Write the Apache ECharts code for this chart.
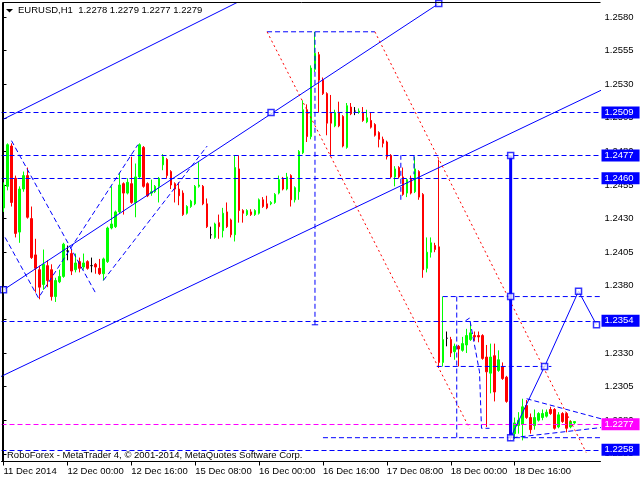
<!DOCTYPE html>
<html><head><meta charset="utf-8">
<script src="https://cdn.jsdelivr.net/npm/echarts@6/dist/echarts.min.js"></script>
<style>html,body{margin:0;padding:0;background:#fff}#c{width:640px;height:480px}</style>
</head><body><div id="c"></div>
<script>
// ---------- data ----------
const symbolName = 'EURUSD,H1';
const lastQuote = [1.2278, 1.2279, 1.2277, 1.2279];
const copyrightText = 'RoboForex - MetaTrader 4, \u00A9 2001-2014, MetaQuotes Software Corp.';
const tickLabels = ['11 Dec 2014','12 Dec 00:00','12 Dec 16:00','15 Dec 08:00','16 Dec 00:00','16 Dec 16:00','17 Dec 08:00','18 Dec 00:00','18 Dec 16:00'];
const priceTicks = [1.2255,1.2280,1.2305,1.2330,1.2355,1.2380,1.2405,1.2430,1.2455,1.2480,1.2505,1.2530,1.2555,1.2580];

const opens = [
1.2438,1.2454,1.2484,1.2460,1.2420,1.2452,1.2462,1.2430,1.2403,1.2392,
1.2381,1.2395,1.2392,1.2372,1.2383,1.2387,1.2406,1.2404,1.2392,1.2398,
1.2394,1.2398,1.2395,1.2396,1.2393,1.2389,1.2398,1.2423,1.2424,1.2435,
1.2456,1.2449,1.2456,1.2442,1.2461,1.2483,1.2456,1.2449,1.2450,1.2454,
1.2470,1.2474,1.2465,1.2456,1.2452,1.2449,1.2434,1.2439,1.2441,1.2454,
1.2454,1.2441,1.2418,1.2416,1.2427,1.2421,1.2435,1.2429,1.2418,1.2467,
1.2436,1.2433,1.2435,1.2433,1.2434,1.2444,1.2441,1.2441,1.2442,1.2449,
1.2460,1.2452,1.2462,1.2444,1.2450,1.2479,1.2511,1.2491,1.2541,1.2552,
1.2533,1.2523,1.2509,1.2499,1.2509,1.2506,1.2483,1.2513,1.2510,1.2509,
1.2509,1.2502,1.2503,1.2500,1.2494,1.2489,1.2487,1.2477,1.2461,1.2468,
1.2461,1.2449,1.2460,1.2450,1.2465,1.2448,1.2393,1.2405,1.2410,1.2409,
1.2323,1.2341,1.2340,1.2331,1.2335,1.2332,1.2336,1.2340,1.2343,1.2343,
1.2343,1.2327,1.2315,1.2328,1.2317,1.2320,1.2312,1.2294,1.2270,1.2276,
1.2277,1.2291,1.2282,1.2276,1.2280,1.2282,1.2283,1.2288,1.2288,1.2275,
1.2285,1.2285,1.2275,1.2278];
const closes = [
1.2455,1.2485,1.2442,1.2419,1.2452,1.2462,1.2431,1.2401,1.2393,1.2379,
1.2396,1.2384,1.2372,1.2384,1.2387,1.2411,1.2406,1.2391,1.2397,1.2393,
1.2397,1.2393,1.2395,1.2394,1.2389,1.2400,1.2423,1.2426,1.2435,1.2455,
1.2449,1.2457,1.2442,1.2461,1.2485,1.2454,1.2447,1.2450,1.2454,1.2460,
1.2476,1.2462,1.2455,1.2452,1.2447,1.2433,1.2439,1.2443,1.2454,1.2455,
1.2441,1.2424,1.2418,1.2426,1.2424,1.2434,1.2424,1.2418,1.2468,1.2436,
1.2434,1.2436,1.2433,1.2436,1.2444,1.2439,1.2438,1.2442,1.2448,1.2459,
1.2452,1.2461,1.2444,1.2453,1.2480,1.2511,1.2491,1.2542,1.2553,1.2533,
1.2523,1.2501,1.2501,1.2509,1.2499,1.2484,1.2514,1.2508,1.2510,1.2510,
1.2503,1.2505,1.2498,1.2492,1.2489,1.2486,1.2476,1.2461,1.2467,1.2461,
1.2448,1.2459,1.2449,1.2467,1.2446,1.2392,1.2405,1.2412,1.2407,1.2323,
1.2340,1.2341,1.2330,1.2335,1.2333,1.2337,1.2343,1.2345,1.2342,1.2342,
1.2326,1.2316,1.2327,1.2301,1.2325,1.2311,1.2294,1.2267,1.2278,1.2280,
1.2290,1.2282,1.2273,1.2282,1.2285,1.2285,1.2286,1.2285,1.2274,1.2284,
1.2279,1.2274,1.2279,1.2279];
const lows = [
1.2435,1.2451,1.2439,1.2416,1.2412,1.2450,1.2430,1.2400,1.2375,1.2370,
1.2377,1.2379,1.2369,1.2368,1.2382,1.2386,1.2399,1.2388,1.2390,1.2390,
1.2392,1.2392,1.2390,1.2389,1.2388,1.2384,1.2397,1.2422,1.2423,1.2434,
1.2433,1.2448,1.2441,1.2431,1.2460,1.2453,1.2446,1.2447,1.2449,1.2442,
1.2466,1.2460,1.2452,1.2442,1.2440,1.2432,1.2433,1.2438,1.2440,1.2453,
1.2440,1.2423,1.2415,1.2415,1.2415,1.2416,1.2423,1.2416,1.2413,1.2427,
1.2427,1.2432,1.2432,1.2432,1.2433,1.2438,1.2437,1.2440,1.2441,1.2448,
1.2451,1.2451,1.2439,1.2442,1.2444,1.2478,1.2487,1.2489,1.2539,1.2509,
1.2522,1.2492,1.2476,1.2498,1.2498,1.2483,1.2482,1.2507,1.2507,1.2508,
1.2502,1.2501,1.2497,1.2491,1.2483,1.2483,1.2474,1.2460,1.2454,1.2460,
1.2447,1.2446,1.2448,1.2449,1.2444,1.2386,1.2390,1.2401,1.2405,1.2319,
1.2320,1.2335,1.2327,1.2325,1.2320,1.2331,1.2330,1.2339,1.2339,1.2338,
1.2325,1.2275,1.2300,1.2294,1.2316,1.2310,1.2293,1.2265,1.2266,1.2270,
1.2265,1.2281,1.2270,1.2273,1.2279,1.2280,1.2282,1.2284,1.2273,1.2274,
1.2278,1.2271,1.2274,1.2277];
const highs = [
1.2457,1.2486,1.2486,1.2462,1.2454,1.2465,1.2468,1.2439,1.2415,1.2395,
1.2407,1.2399,1.2396,1.2386,1.2392,1.2412,1.2410,1.2407,1.2404,1.2401,
1.2404,1.2399,1.2401,1.2397,1.2400,1.2401,1.2424,1.2454,1.2436,1.2464,
1.2457,1.2460,1.2476,1.2471,1.2486,1.2484,1.2457,1.2459,1.2455,1.2461,
1.2478,1.2475,1.2466,1.2457,1.2457,1.2451,1.2440,1.2444,1.2455,1.2472,
1.2455,1.2445,1.2424,1.2427,1.2433,1.2438,1.2442,1.2430,1.2477,1.2477,
1.2437,1.2437,1.2437,1.2437,1.2445,1.2446,1.2447,1.2443,1.2449,1.2462,
1.2461,1.2464,1.2463,1.2454,1.2481,1.2518,1.2515,1.2544,1.2569,1.2554,
1.2535,1.2524,1.2522,1.2511,1.2517,1.2507,1.2516,1.2516,1.2513,1.2512,
1.2513,1.2511,1.2509,1.2501,1.2495,1.2491,1.2488,1.2478,1.2469,1.2469,
1.2468,1.2460,1.2462,1.2476,1.2466,1.2449,1.2416,1.2416,1.2412,1.2474,
1.2372,1.2346,1.2342,1.2337,1.2336,1.2342,1.2348,1.2352,1.2346,1.2346,
1.2344,1.2336,1.2337,1.2337,1.2332,1.2323,1.2313,1.2295,1.2282,1.2286,
1.2296,1.2295,1.2285,1.2288,1.2286,1.2288,1.2288,1.2290,1.2289,1.2286,
1.2286,1.2286,1.2280,1.2279];

// horizontal price levels
const blueLevels = [1.2509, 1.2477, 1.2460, 1.2354, 1.2258];
const magentaLevel = 1.2277;
const bidLevel = 1.2279;

// drawn objects: [bar index, price]
const channelUpper = [[0, 1.2504], [62, 1.2596]];
const channelMiddle = [[0, 1.2377], [109, 1.2590]];
const channelLower = [[-1, 1.2312], [150, 1.2526]];
const zigA = [[2, 1.2488], [23, 1.2375]];
const zigB = [[0.4, 1.2416], [8.75, 1.2371], [33.65, 1.2485]];
const zigC = [[25, 1.2384], [51, 1.2484]];
const boxTop = [[66, 1.2569], [93, 1.2569]];
const spikeDrop = [[78, 1.2569], [78, 1.2351]];
const spikeFoot = [[77.2, 1.2351], [78.8, 1.2351]];
const bracketA = [[99.5, 1.2444], [99.5, 1.2477]];
const bracketB = [[102.8, 1.2477], [102.8, 1.2463]];
const redLeft = [[66, 1.2569], [116.7, 1.2274]];
const redRight = [[93, 1.2569], [145.9, 1.2256]];
const rangeTop = [[110, 1.2372], [150, 1.2372]];
const rangeSide = [[113.5, 1.2372], [113.5, 1.2267]];
const rangeMid = [[108.5, 1.2320], [137.2, 1.2320]];
const zig18 = [[115.7, 1.2354], [116.7, 1.2356], [119.2, 1.2316], [119.7, 1.2274], [121.7, 1.2274]];
const baseLine = [[80, 1.2267], [150, 1.2267]];
const targetBar = [[127, 1.2477], [127, 1.2267]];
const forecast = [[127, 1.2267], [135.5, 1.2320], [144, 1.2376], [148.5, 1.2351]];
const triUpper = [[131, 1.2296], [151, 1.2280]];
const triLower = [[127.5, 1.2267], [151, 1.2275]];
const anchors = [[0, 1.2377], [67, 1.2509], [109, 1.2590], [127, 1.2477], [127, 1.2372], [127, 1.2267], [135.5, 1.2320], [144, 1.2376], [148.5, 1.2351]];

// ---------- build ----------
const FONT = 'Liberation Sans';
const FS = 9.5;
const BLUE = '#0000FF', RED = '#FF0000', GREEN = '#00FF00', MAG = '#FF00FF';
const barCount = opens.length;
const slotCount = 150;
const mon = ['Jan','Feb','Mar','Apr','May','Jun','Jul','Aug','Sep','Oct','Nov','Dec'];
const cats = [];
let t = Date.UTC(2014, 11, 11, 8);
for (let i = 0; i < slotCount; i++) {
  const d = new Date(t);
  cats.push(d.getUTCDate() + ' ' + mon[d.getUTCMonth()] + ' ' + String(d.getUTCHours()).padStart(2,'0') + ':00');
  t += 3600e3;
  while ([0, 6].includes(new Date(t).getUTCDay())) t += 3600e3;
}
const candleData = opens.map((o, i) => {
  const v = [o, closes[i], lows[i], highs[i]];
  if (o === closes[i]) return {value: v, itemStyle: {color: '#000', color0: '#000', borderColor: '#000', borderColor0: '#000'}};
  return v;
});

const yMax = 1.2590788, yMin = 1.2249292;
const dash = [5, 3];
function seg(data, color, width, type, z) {
  return {type: 'line', xAxisIndex: 1, yAxisIndex: 0, data: data, symbol: 'none', silent: true,
    animation: false, z: z || 4, lineStyle: {color: color, width: width, type: type}};
}
function level(v, color, lineOpacity) {
  return {yAxis: v, lineStyle: {color: color, width: 1, type: dash, opacity: lineOpacity},
    label: {show: true, position: 'end', distance: 1, formatter: () => v.toFixed(4), color: '#fff',
      backgroundColor: color, padding: [1, 6, 0, 3], fontSize: FS, fontFamily: FONT, lineHeight: 11}};
}

const chart = echarts.init(document.getElementById('c'));
chart.setOption({
  animation: false,
  backgroundColor: '#fff',
  grid: {left: 1.5, right: 39.5, top: 2.5, bottom: 18.5},
  xAxis: [{
    type: 'category', data: cats, boundaryGap: true,
    axisLine: {show: true, lineStyle: {color: '#000', width: 1}},
    axisTick: {show: true, alignWithLabel: true, length: 4, lineStyle: {color: '#000'},
      interval: (idx) => idx % 16 === 0 && idx < barCount},
    axisLabel: {show: true, interval: (idx) => idx % 16 === 0 && idx < barCount, align: 'left',
      formatter: (val, idx) => tickLabels[idx / 16] || '', color: '#000', fontSize: FS, fontFamily: FONT, margin: 5},
    splitLine: {show: false}
  }, {
    type: 'value', min: -0.5, max: slotCount - 0.5, show: false
  }],
  yAxis: [{
    type: 'value', position: 'right', min: yMin, max: yMax,
    axisLine: {show: true, lineStyle: {color: '#000'}},
    axisTick: {show: true, customValues: priceTicks, length: 3, lineStyle: {color: '#000'}},
    axisLabel: {show: true, customValues: priceTicks, formatter: v => v.toFixed(4), color: '#000',
      fontSize: FS, fontFamily: FONT, margin: 4},
    splitLine: {show: false}
  }],
  graphic: [
    {type: 'polyline', shape: {points: [[2.5, 461.5], [2.5, 2.5], [600.5, 2.5]]}, style: {stroke: '#000', lineWidth: 1, fill: null}, z: 10},
    {type: 'polygon', shape: {points: [[6, 9], [13, 9], [9.5, 12.5]]}, style: {fill: '#000'}, z: 10},
    {type: 'text', x: 18, y: 10.5, style: {text: symbolName + '  ' + lastQuote.map(v => v.toFixed(4)).join(' '),
      fill: '#000', font: FS + 'px "' + FONT + '"', verticalAlign: 'middle'}, z: 10},
    {type: 'text', x: 7, y: 455, style: {text: copyrightText, fill: '#000', font: FS + 'px "' + FONT + '"', verticalAlign: 'middle'}, z: 10}
  ],
  series: [
    {type: 'candlestick', xAxisIndex: 0, yAxisIndex: 0, data: candleData, barWidth: 2, z: 2, silent: true,
      itemStyle: {color: GREEN, color0: RED, borderColor: GREEN, borderColor0: RED, borderWidth: 1}},
    seg(channelUpper, BLUE, 1, 'solid'),
    seg(channelMiddle, BLUE, 1, 'solid'),
    seg(channelLower, BLUE, 1, 'solid'),
    seg(zigA, BLUE, 1, dash),
    seg(zigB, BLUE, 1, dash),
    seg(zigC, BLUE, 1, dash),
    seg(boxTop, BLUE, 1, dash),
    seg(spikeDrop, BLUE, 1, dash),
    seg(spikeFoot, BLUE, 1, 'solid'),
    seg(bracketA, BLUE, 1, dash),
    seg(bracketB, BLUE, 1, dash),
    seg(redLeft, RED, 1, [2, 3]),
    seg(redRight, RED, 1, [2, 3]),
    seg(rangeTop, BLUE, 1, dash),
    seg(rangeSide, BLUE, 1, dash),
    seg(rangeMid, BLUE, 1, dash),
    seg(zig18, BLUE, 1, dash),
    seg(baseLine, BLUE, 1, dash),
    seg(triUpper, BLUE, 1, dash),
    seg(triLower, BLUE, 1, dash),
    seg(targetBar, BLUE, 3, 'solid', 5),
    seg(forecast, BLUE, 1, 'solid', 5),
    {type: 'scatter', xAxisIndex: 1, yAxisIndex: 0, data: anchors, symbol: 'rect', symbolSize: 6, z: 6, silent: true,
      itemStyle: {color: '#fff', borderColor: BLUE, borderWidth: 1.5}},
    {type: 'line', xAxisIndex: 1, yAxisIndex: 0, data: [], z: 7, silent: true,
      markLine: {symbol: ['none', 'none'], silent: true, animation: false, precision: 4,
        data: [level(bidLevel, '#000', 0)].concat(blueLevels.map(v => level(v, BLUE, 1))).concat([level(magentaLevel, MAG, 1)])}}
  ]
});
</script>
</body></html>
